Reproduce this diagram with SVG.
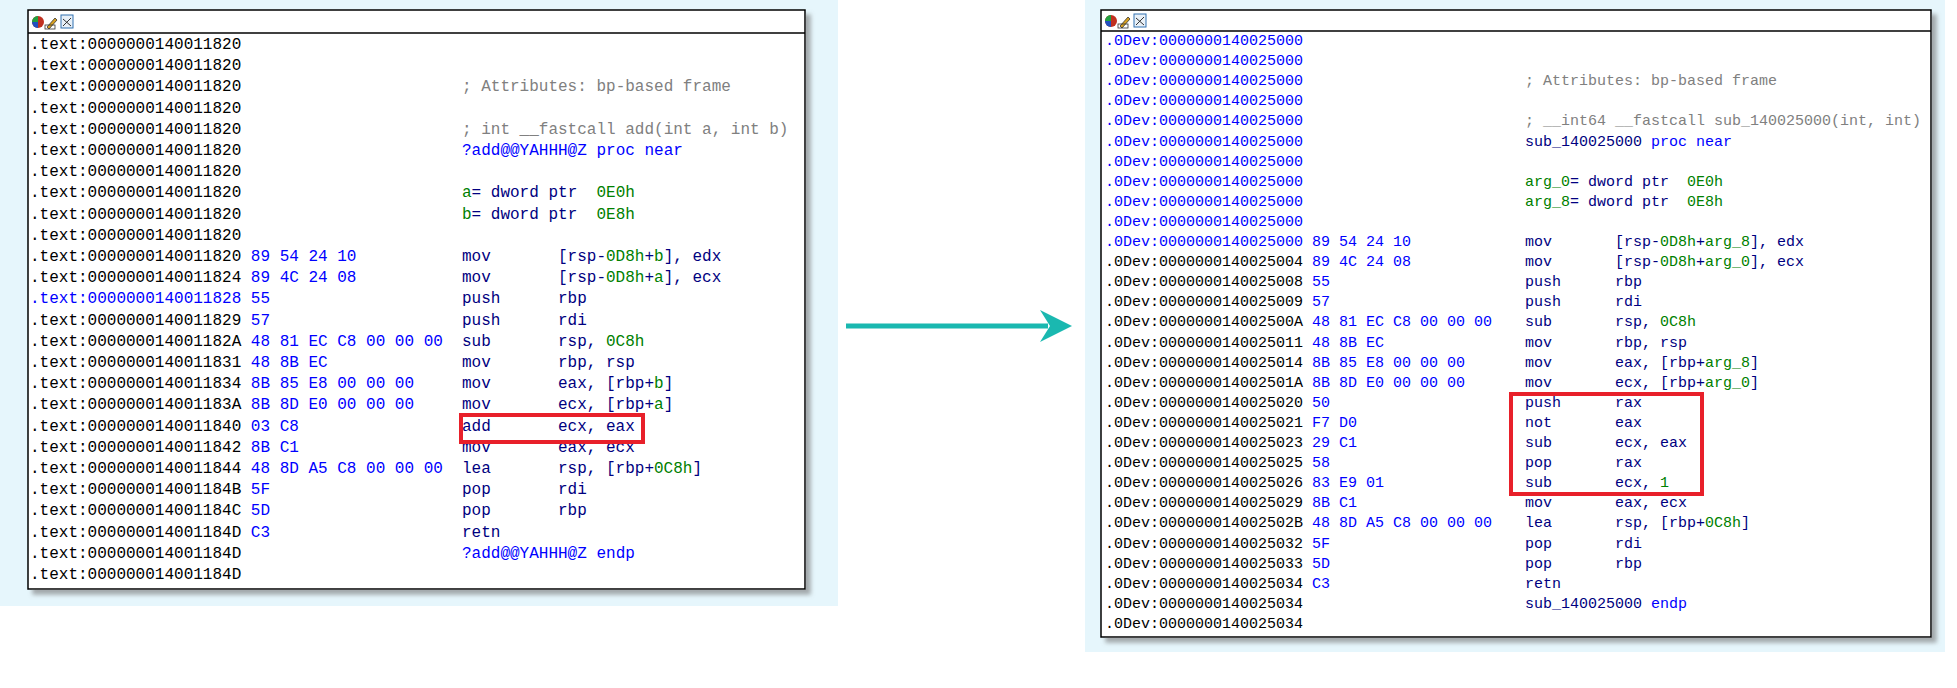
<svg xmlns="http://www.w3.org/2000/svg" width="1957" height="688" viewBox="0 0 1957 688">
<style>
text{font-family:"Liberation Mono","DejaVu Sans Mono",monospace;white-space:pre}
.L text{font-size:16px}.R text{font-size:15px}
.k{fill:#000}.b{fill:#0000ff}.n{fill:#000080}.g{fill:#008000}.c{fill:#808080}
.panel{fill:#fff;stroke:#000;stroke-width:1.5}
.hl{fill:none;stroke:#e8202a;stroke-width:4}
</style>
<defs>
<filter id="sh" x="-5%" y="-5%" width="110%" height="110%"><feDropShadow dx="5" dy="5" stdDeviation="2" flood-color="#777" flood-opacity="0.6"/></filter>
<g id="icons">
<circle cx="9" cy="11" r="6" fill="#c03020"/><path d="M3 11a6 6 0 0 1 6-6v6z" fill="#20a040"/><path d="M9 11v6a6 6 0 0 1-6-6z" fill="#2050c0"/>
<path d="M18 16l8-9 2 2-8 9z" fill="#d8a020" stroke="#333" stroke-width="0.8"/><rect x="16" y="14" width="10" height="4" fill="none" stroke="#333" stroke-width="0.8"/>
<rect x="32" y="4" width="12" height="13" fill="#e8f0f8" stroke="#3070b0" stroke-width="1"/><path d="M34 15l8-8M34 8l8 7" stroke="#333" stroke-width="1"/>
</g>
</defs>
<rect x="0" y="0" width="838" height="606" fill="#e6f6fc"/>
<rect x="1085" y="0" width="860" height="652" fill="#e6f6fc"/>
<g id="left-panel" class="L">
<rect class="panel" x="28" y="10" width="777" height="579" filter="url(#sh)"/>
<line x1="28" y1="33" x2="805" y2="33" stroke="#000" stroke-width="1.5"/>
<use href="#icons" x="29" y="11"/>
<text x="30" y="49" class="k">.text:0000000140011820</text>
<text x="30" y="70.2" class="k">.text:0000000140011820</text>
<text x="30" y="91.4" class="k">.text:0000000140011820</text><text x="462" y="91.4" class="c">; Attributes: bp-based frame</text>
<text x="30" y="112.6" class="k">.text:0000000140011820</text>
<text x="30" y="133.8" class="k">.text:0000000140011820</text><text x="462" y="133.8" class="c">; int __fastcall add(int a, int b)</text>
<text x="30" y="155" class="k">.text:0000000140011820</text><text x="462" y="155" class="b">?add@@YAHHH@Z proc near</text>
<text x="30" y="176.2" class="k">.text:0000000140011820</text>
<text x="30" y="197.4" class="k">.text:0000000140011820</text><text x="462" y="197.4" class="n"><tspan class="g">a</tspan>= dword ptr  <tspan class="g">0E0h</tspan></text>
<text x="30" y="218.6" class="k">.text:0000000140011820</text><text x="462" y="218.6" class="n"><tspan class="g">b</tspan>= dword ptr  <tspan class="g">0E8h</tspan></text>
<text x="30" y="239.8" class="k">.text:0000000140011820</text>
<text x="30" y="261" class="k">.text:0000000140011820 <tspan class="b">89 54 24 10</tspan></text><text x="462" y="261" class="n">mov</text><text x="558" y="261" class="n">[rsp-<tspan class="g">0D8h</tspan>+<tspan class="g">b</tspan>], edx</text>
<text x="30" y="282.2" class="k">.text:0000000140011824 <tspan class="b">89 4C 24 08</tspan></text><text x="462" y="282.2" class="n">mov</text><text x="558" y="282.2" class="n">[rsp-<tspan class="g">0D8h</tspan>+<tspan class="g">a</tspan>], ecx</text>
<text x="30" y="303.4" class="b">.text:0000000140011828 55</text><text x="462" y="303.4" class="n">push</text><text x="558" y="303.4" class="n">rbp</text>
<text x="30" y="324.6" class="k">.text:0000000140011829 <tspan class="b">57</tspan></text><text x="462" y="324.6" class="n">push</text><text x="558" y="324.6" class="n">rdi</text>
<text x="30" y="345.8" class="k">.text:000000014001182A <tspan class="b">48 81 EC C8 00 00 00</tspan></text><text x="462" y="345.8" class="n">sub</text><text x="558" y="345.8" class="n">rsp, <tspan class="g">0C8h</tspan></text>
<text x="30" y="367" class="k">.text:0000000140011831 <tspan class="b">48 8B EC</tspan></text><text x="462" y="367" class="n">mov</text><text x="558" y="367" class="n">rbp, rsp</text>
<text x="30" y="388.2" class="k">.text:0000000140011834 <tspan class="b">8B 85 E8 00 00 00</tspan></text><text x="462" y="388.2" class="n">mov</text><text x="558" y="388.2" class="n">eax, [rbp+<tspan class="g">b</tspan>]</text>
<text x="30" y="409.4" class="k">.text:000000014001183A <tspan class="b">8B 8D E0 00 00 00</tspan></text><text x="462" y="409.4" class="n">mov</text><text x="558" y="409.4" class="n">ecx, [rbp+<tspan class="g">a</tspan>]</text>
<text x="30" y="430.6" class="k">.text:0000000140011840 <tspan class="b">03 C8</tspan></text><text x="462" y="430.6" class="n">add</text><text x="558" y="430.6" class="n">ecx, eax</text>
<text x="30" y="451.8" class="k">.text:0000000140011842 <tspan class="b">8B C1</tspan></text><text x="462" y="451.8" class="n">mov</text><text x="558" y="451.8" class="n">eax, ecx</text>
<text x="30" y="473" class="k">.text:0000000140011844 <tspan class="b">48 8D A5 C8 00 00 00</tspan></text><text x="462" y="473" class="n">lea</text><text x="558" y="473" class="n">rsp, [rbp+<tspan class="g">0C8h</tspan>]</text>
<text x="30" y="494.2" class="k">.text:000000014001184B <tspan class="b">5F</tspan></text><text x="462" y="494.2" class="n">pop</text><text x="558" y="494.2" class="n">rdi</text>
<text x="30" y="515.4" class="k">.text:000000014001184C <tspan class="b">5D</tspan></text><text x="462" y="515.4" class="n">pop</text><text x="558" y="515.4" class="n">rbp</text>
<text x="30" y="536.6" class="k">.text:000000014001184D <tspan class="b">C3</tspan></text><text x="462" y="536.6" class="n">retn</text>
<text x="30" y="557.8" class="k">.text:000000014001184D</text><text x="462" y="557.8" class="b">?add@@YAHHH@Z endp</text>
<text x="30" y="579" class="k">.text:000000014001184D</text>
<rect class="hl" x="461" y="415" width="182" height="27"/>
</g>
<g id="right-panel" class="R">
<rect class="panel" x="1101" y="10" width="830" height="627" filter="url(#sh)"/>
<line x1="1101" y1="31" x2="1931" y2="31" stroke="#000" stroke-width="1.5"/>
<use href="#icons" x="1102" y="10"/>
<text x="1105" y="45" class="b">.0Dev:0000000140025000</text>
<text x="1105" y="65.1" class="b">.0Dev:0000000140025000</text>
<text x="1105" y="85.2" class="b">.0Dev:0000000140025000</text><text x="1525" y="85.2" class="c">; Attributes: bp-based frame</text>
<text x="1105" y="105.3" class="b">.0Dev:0000000140025000</text>
<text x="1105" y="125.4" class="b">.0Dev:0000000140025000</text><text x="1525" y="125.4" class="c">; __int64 __fastcall sub_140025000(int, int)</text>
<text x="1105" y="145.5" class="b">.0Dev:0000000140025000</text><text x="1525" y="145.5" class="n">sub_140025000 <tspan class="b">proc near</tspan></text>
<text x="1105" y="165.6" class="b">.0Dev:0000000140025000</text>
<text x="1105" y="185.7" class="b">.0Dev:0000000140025000</text><text x="1525" y="185.7" class="n"><tspan class="g">arg_0</tspan>= dword ptr  <tspan class="g">0E0h</tspan></text>
<text x="1105" y="205.8" class="b">.0Dev:0000000140025000</text><text x="1525" y="205.8" class="n"><tspan class="g">arg_8</tspan>= dword ptr  <tspan class="g">0E8h</tspan></text>
<text x="1105" y="225.9" class="b">.0Dev:0000000140025000</text>
<text x="1105" y="246" class="b">.0Dev:0000000140025000 89 54 24 10</text><text x="1525" y="246" class="n">mov</text><text x="1615" y="246" class="n">[rsp-<tspan class="g">0D8h</tspan>+<tspan class="g">arg_8</tspan>], edx</text>
<text x="1105" y="266.1" class="k">.0Dev:0000000140025004 <tspan class="b">89 4C 24 08</tspan></text><text x="1525" y="266.1" class="n">mov</text><text x="1615" y="266.1" class="n">[rsp-<tspan class="g">0D8h</tspan>+<tspan class="g">arg_0</tspan>], ecx</text>
<text x="1105" y="286.2" class="k">.0Dev:0000000140025008 <tspan class="b">55</tspan></text><text x="1525" y="286.2" class="n">push</text><text x="1615" y="286.2" class="n">rbp</text>
<text x="1105" y="306.3" class="k">.0Dev:0000000140025009 <tspan class="b">57</tspan></text><text x="1525" y="306.3" class="n">push</text><text x="1615" y="306.3" class="n">rdi</text>
<text x="1105" y="326.4" class="k">.0Dev:000000014002500A <tspan class="b">48 81 EC C8 00 00 00</tspan></text><text x="1525" y="326.4" class="n">sub</text><text x="1615" y="326.4" class="n">rsp, <tspan class="g">0C8h</tspan></text>
<text x="1105" y="346.5" class="k">.0Dev:0000000140025011 <tspan class="b">48 8B EC</tspan></text><text x="1525" y="346.5" class="n">mov</text><text x="1615" y="346.5" class="n">rbp, rsp</text>
<text x="1105" y="366.6" class="k">.0Dev:0000000140025014 <tspan class="b">8B 85 E8 00 00 00</tspan></text><text x="1525" y="366.6" class="n">mov</text><text x="1615" y="366.6" class="n">eax, [rbp+<tspan class="g">arg_8</tspan>]</text>
<text x="1105" y="386.7" class="k">.0Dev:000000014002501A <tspan class="b">8B 8D E0 00 00 00</tspan></text><text x="1525" y="386.7" class="n">mov</text><text x="1615" y="386.7" class="n">ecx, [rbp+<tspan class="g">arg_0</tspan>]</text>
<text x="1105" y="406.8" class="k">.0Dev:0000000140025020 <tspan class="b">50</tspan></text><text x="1525" y="406.8" class="n">push</text><text x="1615" y="406.8" class="n">rax</text>
<text x="1105" y="426.9" class="k">.0Dev:0000000140025021 <tspan class="b">F7 D0</tspan></text><text x="1525" y="426.9" class="n">not</text><text x="1615" y="426.9" class="n">eax</text>
<text x="1105" y="447" class="k">.0Dev:0000000140025023 <tspan class="b">29 C1</tspan></text><text x="1525" y="447" class="n">sub</text><text x="1615" y="447" class="n">ecx, eax</text>
<text x="1105" y="467.1" class="k">.0Dev:0000000140025025 <tspan class="b">58</tspan></text><text x="1525" y="467.1" class="n">pop</text><text x="1615" y="467.1" class="n">rax</text>
<text x="1105" y="487.2" class="k">.0Dev:0000000140025026 <tspan class="b">83 E9 01</tspan></text><text x="1525" y="487.2" class="n">sub</text><text x="1615" y="487.2" class="n">ecx, <tspan class="g">1</tspan></text>
<text x="1105" y="507.3" class="k">.0Dev:0000000140025029 <tspan class="b">8B C1</tspan></text><text x="1525" y="507.3" class="n">mov</text><text x="1615" y="507.3" class="n">eax, ecx</text>
<text x="1105" y="527.4" class="k">.0Dev:000000014002502B <tspan class="b">48 8D A5 C8 00 00 00</tspan></text><text x="1525" y="527.4" class="n">lea</text><text x="1615" y="527.4" class="n">rsp, [rbp+<tspan class="g">0C8h</tspan>]</text>
<text x="1105" y="547.5" class="k">.0Dev:0000000140025032 <tspan class="b">5F</tspan></text><text x="1525" y="547.5" class="n">pop</text><text x="1615" y="547.5" class="n">rdi</text>
<text x="1105" y="567.6" class="k">.0Dev:0000000140025033 <tspan class="b">5D</tspan></text><text x="1525" y="567.6" class="n">pop</text><text x="1615" y="567.6" class="n">rbp</text>
<text x="1105" y="587.7" class="k">.0Dev:0000000140025034 <tspan class="b">C3</tspan></text><text x="1525" y="587.7" class="n">retn</text>
<text x="1105" y="607.8" class="k">.0Dev:0000000140025034</text><text x="1525" y="607.8" class="n">sub_140025000 <tspan class="b">endp</tspan></text>
<text x="1105" y="627.9" class="k">.0Dev:0000000140025034</text>
<rect class="hl" x="1511" y="394" width="191" height="100"/>
</g>
<g id="connectors">
<line x1="846" y1="326" x2="1048" y2="326" stroke="#1ab8b0" stroke-width="5"/>
<path d="M1072 326 L1040 310 L1050 326 L1040 342 Z" fill="#1ab8b0"/>
</g>
</svg>
